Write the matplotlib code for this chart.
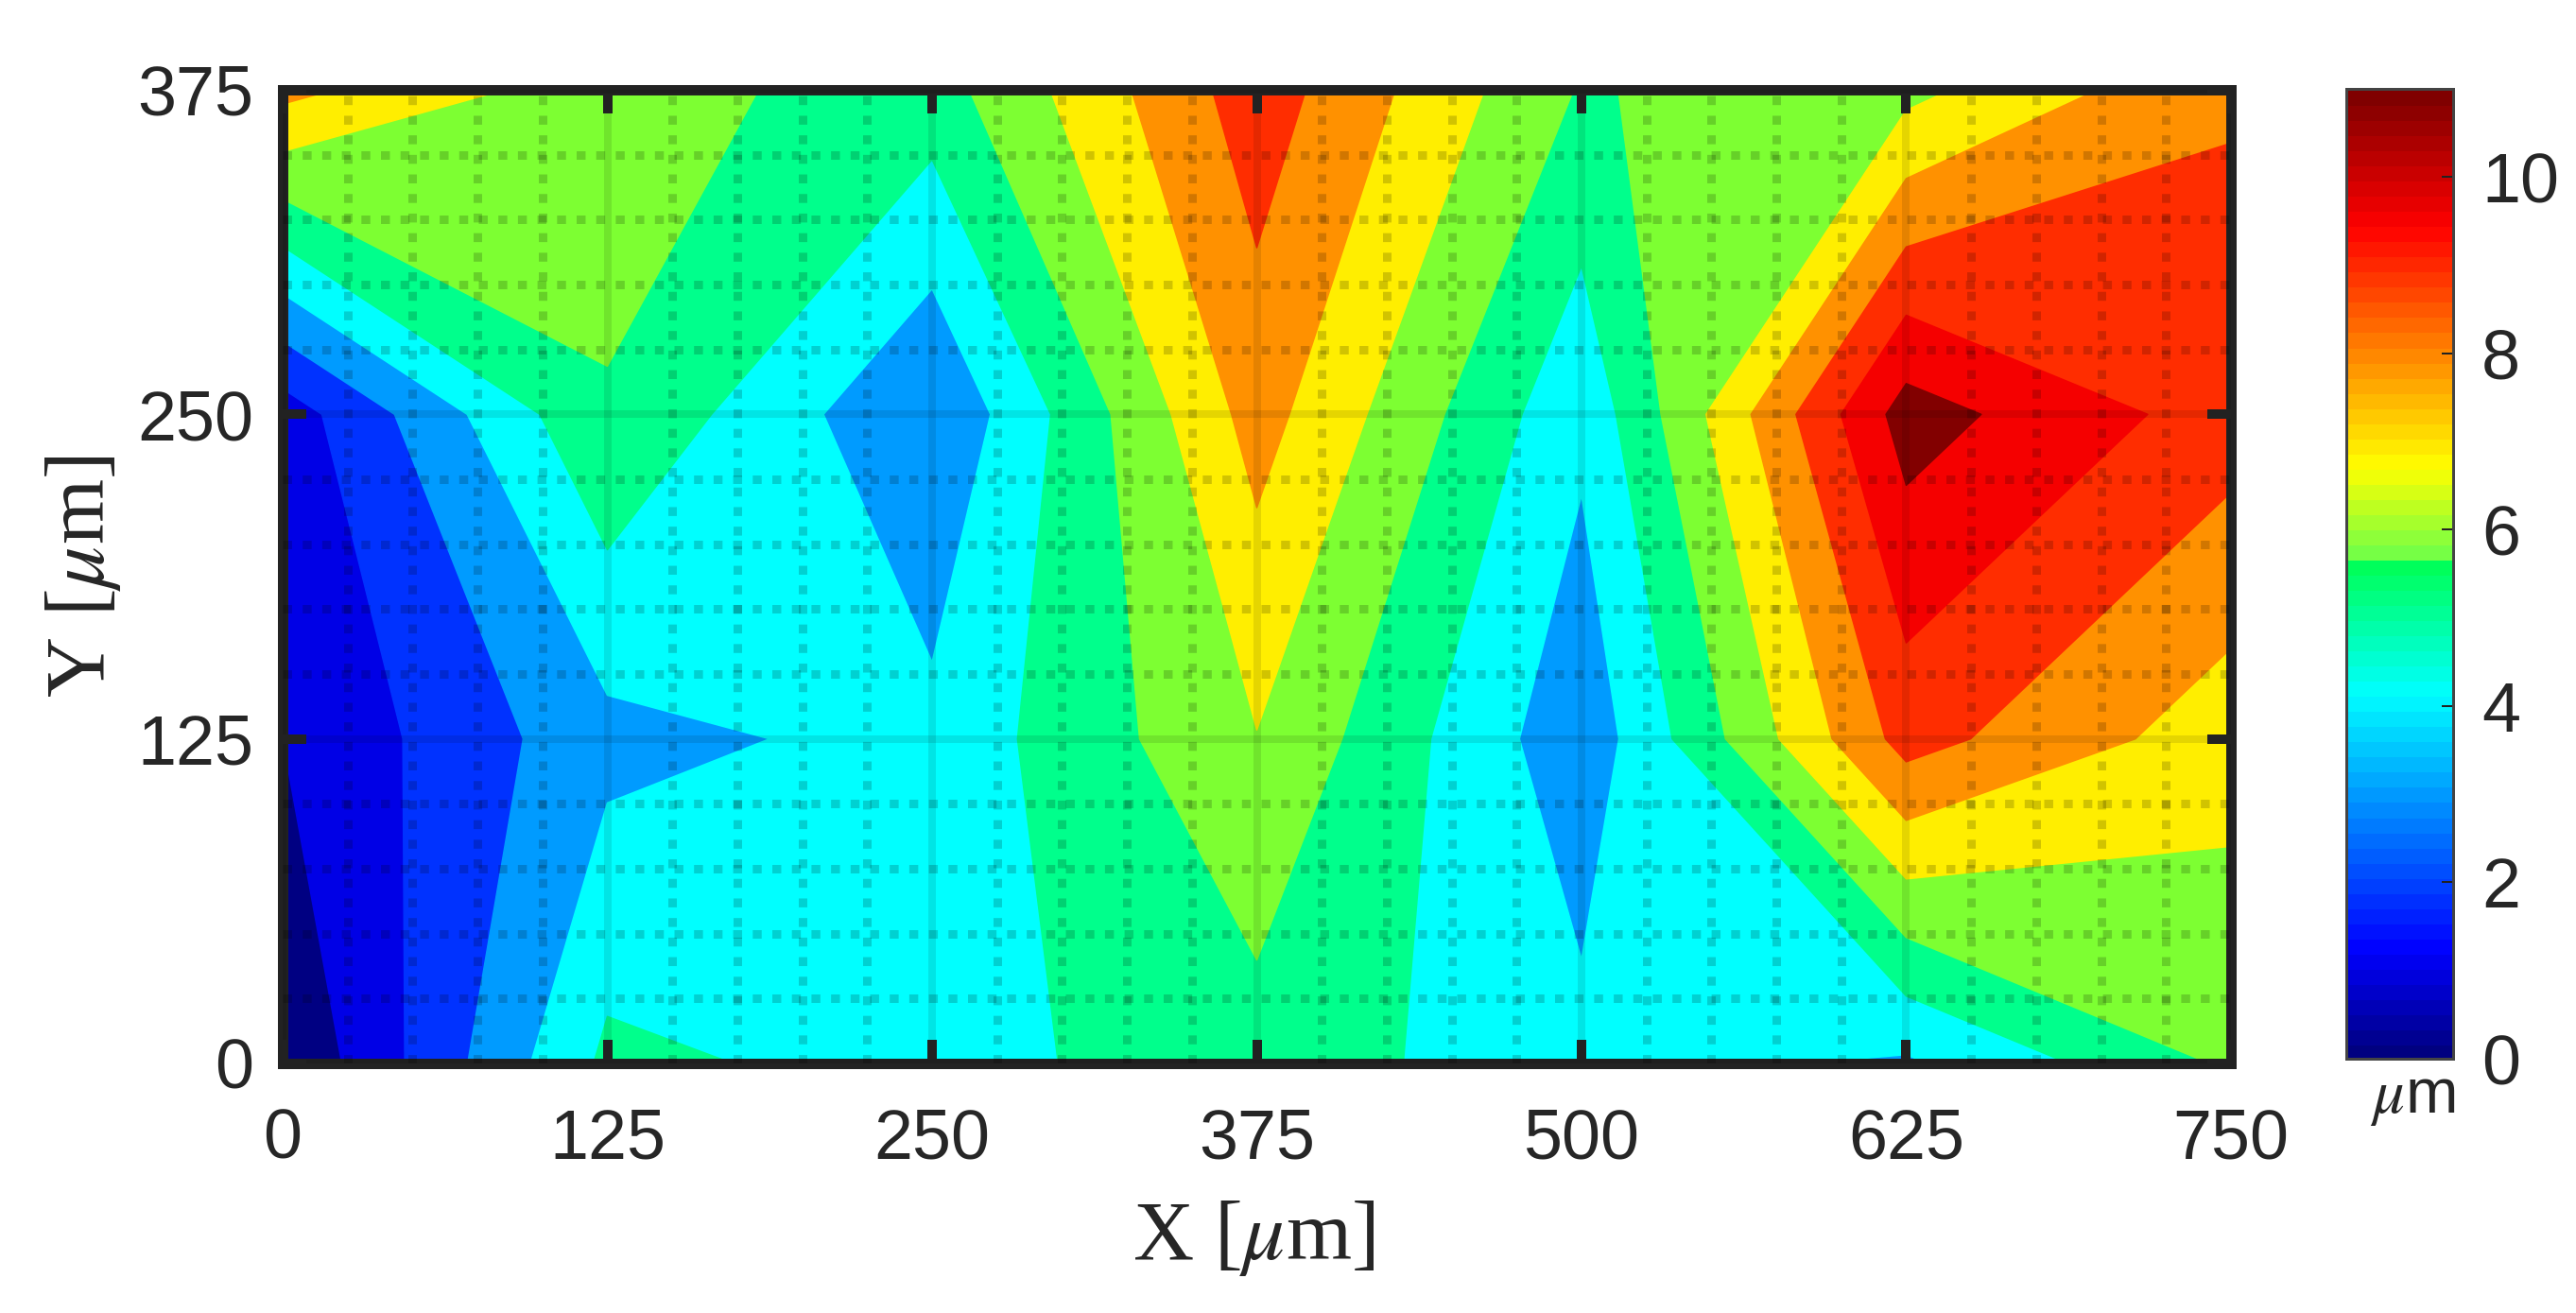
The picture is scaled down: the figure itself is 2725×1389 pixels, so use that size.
import matplotlib
matplotlib.use("Agg")
import numpy as np
import matplotlib.pyplot as plt
from matplotlib.colors import ListedColormap, BoundaryNorm, LinearSegmentedColormap, Normalize
from matplotlib.cm import ScalarMappable
from matplotlib.ticker import MultipleLocator, FixedLocator

plt.rcParams['font.family'] = ['Liberation Sans', 'DejaVu Sans']
plt.rcParams['mathtext.fontset'] = 'stix'

# Data (thickness in um at each grid node, columns by x)
x_um = [0, 125, 250, 375, 500, 625, 750]
y_um = [0, 125, 250, 375]
col_x0 = [0.055, 0.917, 1.338, 7.608]
col_x125 = [4.785, 3.392, 5.436, 5.867]
col_x250 = [4.263, 3.942, 2.778, 5.078]
col_x375 = [5.088, 6.380, 7.718, 8.754]
col_x500 = [3.969, 3.025, 3.880, 5.418]
col_x625 = [3.529, 8.608, 10.496, 6.142]
col_x750 = [5.638, 6.802, 8.708, 8.160]

x_ticks = [0, 125, 250, 375, 500, 625, 750]
y_ticks = [0, 125, 250, 375]
cbar_ticks = [0, 2, 4, 6, 8, 10]
n_bands = 12
z_max = 11

band_colors = ['#000082', '#0000e6', '#0032ff', '#009bff', '#00ffff', '#00ff8c',
               '#7dff32', '#ffee00', '#ff9100', '#ff2d00', '#f50000', '#820000']
cbar_anchors = [(0.0, (0, 0, .5)), (1.2 / 11, (0, 0, 1)), (4.14 / 11, (0, 1, 1)),
                (5.6 / 11, (0, 1, .35)), (5.65 / 11, (.4, 1, .3)), (6.75 / 11, (1, 1, 0)),
                (9.5 / 11, (1, 0, 0)), (1.0, (.5, 0, 0))]

W, H, DPI = 2725, 1389, 200
INK = '#262626'
FRAME = '#222222'


def px(n):
    return n * 72 / DPI


Z = np.array([col_x0, col_x125, col_x250, col_x375, col_x500, col_x625, col_x750]).T
levels = np.linspace(0, z_max, n_bands + 1)

fig = plt.figure(figsize=(W / DPI, H / DPI), dpi=DPI)
ax = fig.add_axes([299 / W, 1 - 1125 / H, (2360 - 299) / W, (1125 - 95) / H])
cs = ax.contourf(x_um, y_um, Z, levels=levels, cmap=ListedColormap(band_colors),
                 norm=BoundaryNorm(levels, n_bands), antialiased=True)
cs.set_edgecolor('face')
cs.set_linewidth(px(1.5))

ax.set_xlim(0, 750)
ax.set_ylim(0, 375)
ax.xaxis.set_major_locator(FixedLocator(x_ticks))
ax.yaxis.set_major_locator(FixedLocator(y_ticks))
ax.xaxis.set_minor_locator(MultipleLocator(25))
ax.yaxis.set_minor_locator(MultipleLocator(25))
ax.set_axisbelow(False)
ax.grid(which='major', color='black', alpha=0.10, lw=px(8), ls='-')
ax.grid(which='minor', color='black', alpha=0.18, lw=px(9),
        ls=(0, (1.05, 1.25)), dash_capstyle='butt')
ax.tick_params(which='minor', length=0)
ax.tick_params(which='major', direction='in', top=True, right=True, length=px(25),
               width=px(10), color=FRAME, labelsize=26.5, labelcolor=INK)
ax.tick_params(axis='x', pad=px(46))
ax.tick_params(axis='y', pad=px(31))
for s in ax.spines.values():
    s.set_linewidth(px(11))
    s.set_color(FRAME)

ax.set_xlabel(r'X [$\mu$m]', family='Liberation Serif', fontsize=32, color=INK, va='center')
ax.set_ylabel(r'Y [$\mu$m]', family='Liberation Serif', fontsize=32, color=INK, va='center')
ax.xaxis.set_label_coords(0.4985, -0.18)
ax.yaxis.set_label_coords(-0.1024, 0.5)

cax = fig.add_axes([2482 / W, 1 - 1120 / H, (2595 - 2482) / W, (1120 - 94) / H])
cmap = LinearSegmentedColormap.from_list('jetlike', cbar_anchors, N=64)
cb = fig.colorbar(ScalarMappable(Normalize(0, z_max), cmap), cax=cax, ticks=cbar_ticks)
cb.solids.set_edgecolor('face')
cb.ax.tick_params(direction='in', length=px(12), width=px(2), color=FRAME,
                  labelsize=26.5, labelcolor=INK, pad=px(30))
cb.outline.set_linewidth(px(3))
cb.outline.set_edgecolor('#444444')
cb.ax.text(0.62, -0.0105, r'$\mu$m', transform=cb.ax.transAxes, ha='center', va='top',
           fontsize=24, color=INK)

fig.savefig('out.png', dpi=DPI)
